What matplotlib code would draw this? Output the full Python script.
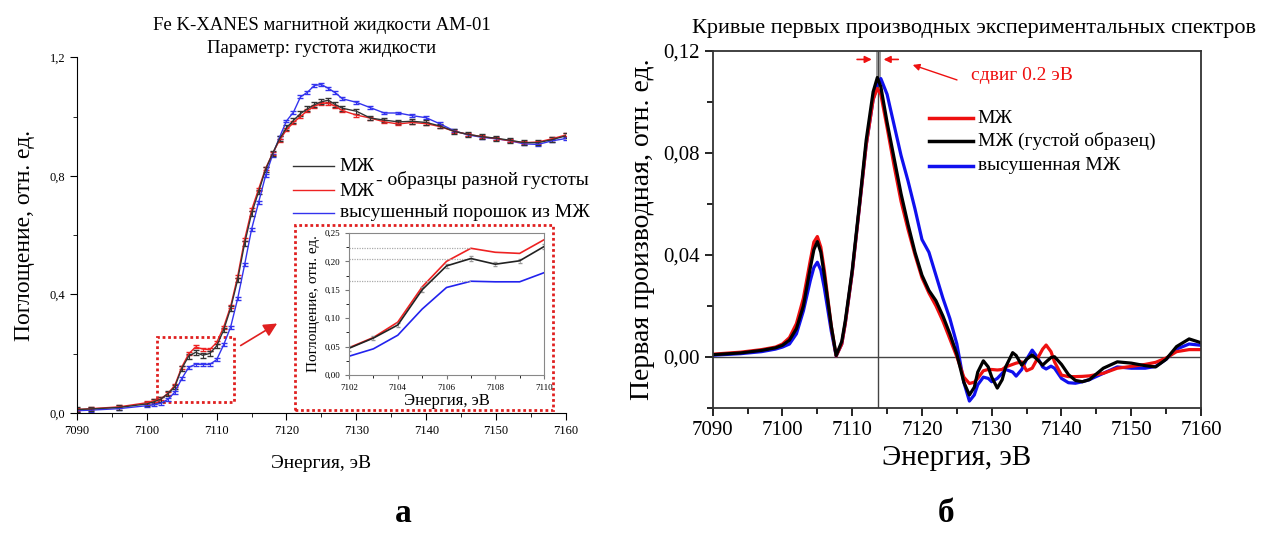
import matplotlib
matplotlib.use('Agg')

import matplotlib.pyplot as plt
from matplotlib.patches import Rectangle
from matplotlib.ticker import MultipleLocator

plt.rcParams['font.family'] = ['Liberation Serif', 'DejaVu Serif']

# --- спектры XANES (панель а) ---
e_xanes = [7090, 7092, 7096, 7100, 7101, 7102, 7103, 7104, 7105, 7106, 7107, 7108,
           7109, 7110, 7111, 7112, 7113, 7114, 7115, 7116, 7117, 7118, 7119, 7120,
           7121, 7122, 7123, 7124, 7125, 7126, 7127, 7128, 7130, 7132, 7134, 7136,
           7138, 7140, 7142, 7144, 7146, 7148, 7150, 7152, 7154, 7156, 7158, 7160]
mzh_black = [0.012, 0.014, 0.019, 0.031, 0.038, 0.047, 0.065, 0.088, 0.150, 0.192, 0.205, 0.195,
             0.201, 0.226, 0.280, 0.353, 0.449, 0.572, 0.673, 0.746, 0.821, 0.875, 0.925, 0.962,
             0.987, 1.010, 1.026, 1.040, 1.050, 1.055, 1.040, 1.028, 1.018, 0.995, 0.988, 0.982,
             0.984, 0.980, 0.968, 0.950, 0.940, 0.932, 0.927, 0.920, 0.912, 0.912, 0.922, 0.935]
mzh_red = [0.012, 0.015, 0.021, 0.035, 0.042, 0.048, 0.066, 0.093, 0.155, 0.200, 0.223, 0.216,
           0.214, 0.238, 0.290, 0.360, 0.460, 0.585, 0.685, 0.755, 0.825, 0.875, 0.920, 0.955,
           0.980, 1.000, 1.020, 1.035, 1.045, 1.045, 1.035, 1.020, 1.005, 0.995, 0.982, 0.975,
           0.980, 0.976, 0.966, 0.950, 0.940, 0.932, 0.926, 0.918, 0.912, 0.914, 0.925, 0.938]
powder_blue = [0.008, 0.010, 0.015, 0.025, 0.028, 0.033, 0.046, 0.070, 0.116, 0.154, 0.165, 0.164,
               0.164, 0.180, 0.230, 0.290, 0.385, 0.500, 0.620, 0.710, 0.800, 0.870, 0.930, 0.985,
               1.015, 1.066, 1.082, 1.105, 1.108, 1.095, 1.080, 1.060, 1.048, 1.030, 1.012, 1.012,
               1.003, 0.996, 0.975, 0.952, 0.938, 0.930, 0.925, 0.918, 0.908, 0.906, 0.918, 0.926]
err_black = 0.008
err_red = 0.005
err_blue = 0.005

# --- первые производные (панель б) ---
e_deriv = [7090, 7094, 7097, 7099, 7100, 7101, 7102, 7103, 7104, 7104.5, 7105, 7105.5,
           7106, 7107, 7107.7, 7108.5, 7109, 7110, 7111, 7112, 7113, 7113.6, 7114.1, 7115,
           7116, 7117, 7118, 7119, 7120, 7121, 7122, 7123, 7124, 7125, 7126, 7126.8,
           7127.5, 7128, 7128.8, 7129.5, 7130, 7130.8, 7131.5, 7132, 7133, 7133.5, 7134.3, 7135,
           7135.8, 7136.5, 7137.3, 7137.8, 7138.5, 7139, 7140, 7141, 7142, 7143, 7144, 7146,
           7148, 7150, 7152, 7153.5, 7155, 7156.5, 7158.3, 7160]
d_red = [0.0010, 0.0018, 0.0028, 0.0038, 0.0050, 0.0075, 0.013, 0.023, 0.038, 0.045, 0.0472, 0.043,
         0.034, 0.012, 0.0003, 0.005, 0.013, 0.033, 0.058, 0.083, 0.101, 0.1053, 0.103, 0.090,
         0.075, 0.061, 0.050, 0.040, 0.031, 0.025, 0.020, 0.014, 0.007, 0.0, -0.008, -0.0105,
         -0.010, -0.0085, -0.0055, -0.005, -0.005, -0.0052, -0.005, -0.004, -0.003, -0.0025, -0.002, -0.0055,
         -0.0045, -0.001, 0.003, 0.0046, 0.002, -0.002, -0.0072, -0.0078, -0.0078, -0.0077, -0.0075, -0.0065,
         -0.0045, -0.0038, -0.003, -0.0022, -0.0005, 0.002, 0.0028, 0.0028]
d_black = [0.0008, 0.0015, 0.0025, 0.0035, 0.0045, 0.0065, 0.011, 0.020, 0.035, 0.042, 0.0452, 0.041,
           0.032, 0.012, 0.0005, 0.006, 0.014, 0.034, 0.059, 0.085, 0.104, 0.1096, 0.106, 0.092,
           0.078, 0.064, 0.052, 0.041, 0.032, 0.026, 0.022, 0.016, 0.009, 0.001, -0.010, -0.015,
           -0.012, -0.006, -0.0016, -0.004, -0.008, -0.0123, -0.009, -0.004, 0.0016, 0.0005, -0.0033, -0.001,
           0.0007, -0.001, -0.0033, -0.002, -0.0003, 0.0, -0.003, -0.007, -0.0093, -0.0098, -0.009, -0.0045,
           -0.002, -0.0025, -0.0035, -0.004, -0.001, 0.004, 0.007, 0.0055]
d_blue = [0.0006, 0.0012, 0.0020, 0.0030, 0.0038, 0.0050, 0.009, 0.018, 0.030, 0.035, 0.0371, 0.034,
          0.027, 0.010, 0.0003, 0.005, 0.013, 0.033, 0.058, 0.083, 0.101, 0.107, 0.1092, 0.103,
          0.091, 0.079, 0.069, 0.058, 0.046, 0.041, 0.032, 0.023, 0.015, 0.005, -0.010, -0.0174,
          -0.015, -0.011, -0.008, -0.0085, -0.0098, -0.0085, -0.0065, -0.005, -0.006, -0.0076, -0.005, -0.001,
          0.0026, 0.0, -0.004, -0.0048, -0.0037, -0.0045, -0.0085, -0.0102, -0.0104, -0.0098, -0.009, -0.0065,
          -0.004, -0.0045, -0.0045, -0.0038, -0.001, 0.003, 0.005, 0.0045]

peak_pos = 7113.65

xticks = [7090, 7100, 7110, 7120, 7130, 7140, 7150, 7160]
left_yticks = [0.0, 0.4, 0.8, 1.2]
left_ylabels = ['0,0', '0,4', '0,8', '1,2']
inset_xticks = [7102, 7104, 7106, 7108, 7110]
inset_yticks = [0.0, 0.05, 0.10, 0.15, 0.20, 0.25]
inset_ylabels = ['0,00', '0,05', '0,10', '0,15', '0,20', '0,25']
inset_levels = [0.223, 0.205, 0.165]
right_yticks = [0.0, 0.04, 0.08, 0.12]
right_ylabels = ['0,00', '0,04', '0,08', '0,12']


def main():
    fig = plt.figure(figsize=(12.61, 5.40), dpi=100)

    # ---------- панель а ----------
    ax = fig.add_axes([0.0610, 0.235, 0.3878, 0.659])
    ax.errorbar(e_xanes, powder_blue, yerr=err_blue, color='#3333ee', lw=1.0,
                elinewidth=0.8, capsize=2.5)
    ax.errorbar(e_xanes, mzh_red, yerr=err_red, color='#ee2222', lw=1.0,
                elinewidth=0.8, capsize=2.5)
    ax.errorbar(e_xanes, mzh_black, yerr=err_black, color='#333333', lw=1.0,
                elinewidth=0.8, capsize=2.5)
    ax.set_xlim(7090, 7160)
    ax.set_ylim(0, 1.2)
    ax.set_xticks(xticks)
    ax.xaxis.set_minor_locator(MultipleLocator(5))
    ax.set_yticks(left_yticks)
    ax.set_yticklabels(left_ylabels)
    ax.yaxis.set_minor_locator(MultipleLocator(0.2))
    ax.tick_params(labelsize=9, length=5)
    ax.tick_params(which='minor', length=3)
    for s in ['top', 'right']:
        ax.spines[s].set_visible(False)
    ax.set_xlabel('Энергия, эВ', fontsize=14, labelpad=13)
    ax.set_ylabel('Поглощение, отн. ед.', fontsize=17)
    ax.yaxis.set_label_coords(-0.085, 0.5)
    ax.set_title('Fe K-XANES магнитной жидкости АМ-01\nПараметр: густота жидкости',
                 fontsize=13.5, linespacing=1.45, pad=3)

    # легенда вручную
    ax.plot([7121.0, 7126.8], [0.833, 0.833], color='#333333', lw=1.0)
    ax.plot([7121.0, 7126.8], [0.754, 0.754], color='#ee2222', lw=1.0)
    ax.plot([7121.0, 7126.8], [0.676, 0.676], color='#3333ee', lw=1.0)
    ax.text(7127.6, 0.833, 'МЖ', fontsize=14, va='center')
    ax.text(7127.6, 0.746, 'МЖ', fontsize=14, va='center')
    ax.text(7132.8, 0.785, '- образцы разной густоты', fontsize=14, va='center',
            clip_on=False)
    ax.text(7127.6, 0.676, 'высушенный порошок из МЖ', fontsize=14, va='center')

    # рамка увеличенного участка
    ax.add_patch(Rectangle((7101.4, 0.039), 11.1, 0.217, fill=False, ec='#e02020',
                           ls=(0, (1, 1)), lw=2.0))
    ax.add_patch(Rectangle((7121.2, 0.012), 36.9, 0.622, fill=False, ec='#e02020',
                           ls=(0, (1, 1)), lw=2.0, clip_on=False))
    ax.annotate('', xy=(7119.0, 0.307), xytext=(7113.1, 0.223),
                arrowprops=dict(arrowstyle='-|>,head_length=0.8,head_width=0.4',
                                color='#e02020', lw=1.2))

    # вставка
    ins = fig.add_axes([0.2768, 0.3056, 0.1546, 0.263])
    ins.plot(e_xanes[5:14], mzh_red[5:14], color='#ee2222', lw=1.2)
    ins.errorbar(e_xanes[5:14], mzh_black[5:14], yerr=0.004, color='#222222', lw=1.2,
                 elinewidth=0.5, ecolor='#999999', capsize=1.5)
    ins.plot(e_xanes[5:14], powder_blue[5:14], color='#2222ee', lw=1.2)
    for lev in inset_levels:
        ins.plot([7102, 7107], [lev, lev], color='#aaaaaa', lw=0.9, ls=(0, (1, 1)))
    ins.set_xlim(7102, 7110)
    ins.set_ylim(0, 0.25)
    ins.set_xticks(inset_xticks)
    ins.xaxis.set_minor_locator(MultipleLocator(1))
    ins.set_yticks(inset_yticks)
    ins.set_yticklabels(inset_ylabels)
    ins.yaxis.set_minor_locator(MultipleLocator(0.025))
    ins.tick_params(labelsize=6.5, length=3, color='#777777')
    ins.tick_params(which='minor', length=2)
    for s in ins.spines.values():
        s.set_color('#888888')
        s.set_linewidth(0.8)
    ins.set_xlabel('Энергия, эВ', fontsize=12, labelpad=1)
    ins.set_ylabel('Поглощение, отн. ед.', fontsize=11, labelpad=3)

    # ---------- панель б ----------
    bx = fig.add_axes([0.5652, 0.245, 0.3872, 0.6605])
    bx.axhline(0, color='#444444', lw=1.0)
    bx.axvline(peak_pos, color='#444444', lw=1.0)
    bx.plot([peak_pos, peak_pos], [0.109, 0.1195], color='#999999', lw=3.5)
    bx.plot([peak_pos, peak_pos], [0.109, 0.1195], color='#444444', lw=0.8)
    bx.plot(e_deriv, d_blue, color='#1010ee', lw=2.3)
    bx.plot(e_deriv, d_red, color='#ee1010', lw=2.3)
    bx.plot(e_deriv, d_black, color='black', lw=2.3)
    bx.set_xlim(7090, 7160)
    bx.set_ylim(-0.02, 0.12)
    bx.set_xticks(xticks)
    bx.xaxis.set_minor_locator(MultipleLocator(5))
    bx.set_yticks(right_yticks)
    bx.set_yticklabels(right_ylabels)
    bx.yaxis.set_minor_locator(MultipleLocator(0.02))
    bx.tick_params(labelsize=15, length=6, width=1.2)
    bx.tick_params(which='minor', length=4, width=1.2)
    for s in bx.spines.values():
        s.set_linewidth(1.3)
        s.set_color('#333333')
    bx.set_xlabel('Энергия, эВ', fontsize=21)
    bx.set_ylabel('Первая производная, отн. ед.', fontsize=20, labelpad=6)
    bx.set_title('Кривые первых производных экспериментальных спектров', fontsize=16,
                 pad=13, x=0.535)

    # стрелки сдвига
    bx.annotate('', xy=(7113.2, 0.1167), xytext=(7110.3, 0.1167),
                arrowprops=dict(arrowstyle='-|>', color='#ee1010', lw=1.2))
    bx.annotate('', xy=(7114.1, 0.1167), xytext=(7117.0, 0.1167),
                arrowprops=dict(arrowstyle='-|>', color='#ee1010', lw=1.2))
    bx.annotate('', xy=(7118.3, 0.1149), xytext=(7125.4, 0.1083),
                arrowprops=dict(arrowstyle='-|>', color='#ee1010', lw=1.0))
    bx.text(7127.0, 0.1102, 'сдвиг 0.2 эВ', color='#ee1010', fontsize=14, va='center')

    # легенда
    bx.plot([7121.0, 7127.3], [0.0937, 0.0937], color='#ee1010', lw=2.5)
    bx.plot([7121.0, 7127.3], [0.0848, 0.0848], color='black', lw=2.5)
    bx.plot([7121.0, 7127.3], [0.0750, 0.0750], color='#1010ee', lw=2.5)
    bx.text(7128.0, 0.0937, 'МЖ', fontsize=14, va='center')
    bx.text(7128.0, 0.0848, 'МЖ (густой образец)', fontsize=14, va='center')
    bx.text(7128.0, 0.0750, 'высушенная МЖ', fontsize=14, va='center')

    fig.text(0.320, 0.05, 'а', fontsize=24, fontweight='bold', ha='center', va='center')
    fig.text(0.750, 0.05, 'б', fontsize=24, fontweight='bold', ha='center', va='center')

    fig.savefig('out.png', dpi=100)
    plt.close(fig)


if __name__ == "__main__":
    main()
